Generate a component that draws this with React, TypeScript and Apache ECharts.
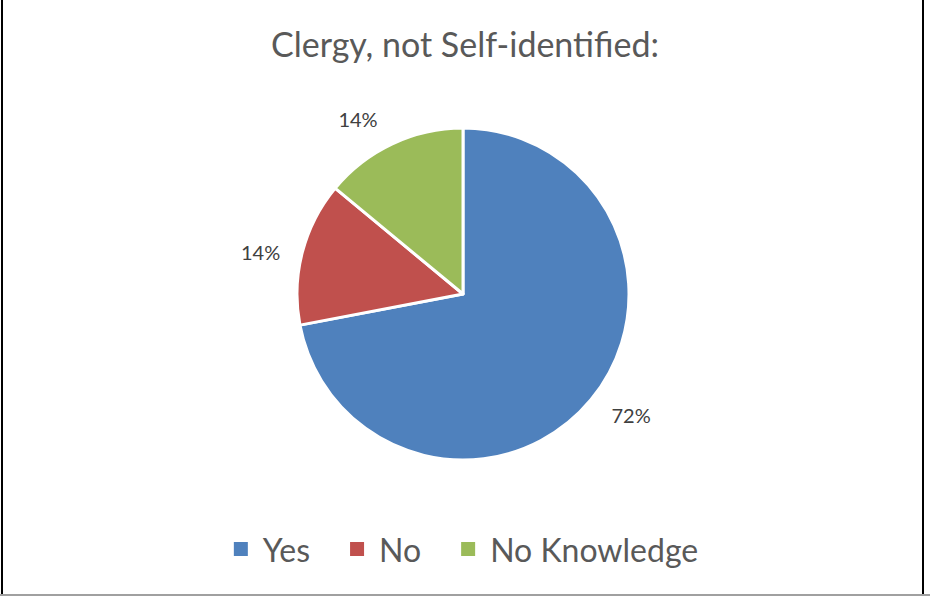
import React, { useEffect, useRef } from "react";
import * as echarts from "echarts";

const titleText = "Clergy, not Self-identified:";
const categories = ["Yes", "No", "No Knowledge"];
const values = [72, 14, 14];
const colors = ["#4F81BD", "#C0504D", "#9BBB59"];
// small nudges reproducing the spreadsheet's "best fit" label placement
const labelNudges = [[7, -12], [0, 10], [-16, 14]];

export default function App() {
  const ref = useRef<HTMLDivElement>(null);
  useEffect(() => {
    if (!ref.current) return;
    const chart = echarts.init(ref.current, null, { renderer: "svg" });
    const data = categories.map((name, i) => ({
      name,
      value: values[i],
      itemStyle: { color: colors[i] },
    }));
    chart.setOption({
      animation: false,
      backgroundColor: "#ffffff",
      title: {
        text: titleText,
        left: "center",
        top: 21,
        textStyle: {
          fontFamily: "Lato",
          fontSize: 34,
          fontWeight: "normal",
          color: "#595959",
        },
      },
      legend: {
        data: categories,
        left: "center",
        top: 528,
        icon: "rect",
        itemWidth: 16,
        itemHeight: 16,
        itemGap: 38,
        textStyle: {
          fontFamily: "Lato",
          fontSize: 32,
          color: "#595959",
          padding: [0, 0, 0, 9],
        },
      },
      graphic: [
        { type: "line", shape: { x1: 2, y1: 0, x2: 2, y2: 596 }, style: { stroke: "#000", lineWidth: 2 } },
        { type: "line", shape: { x1: 923, y1: 0, x2: 923, y2: 596 }, style: { stroke: "#000", lineWidth: 2 } },
        { type: "line", shape: { x1: 0, y1: 595, x2: 930, y2: 595 }, style: { stroke: "#a0a0a0", lineWidth: 2 } },
      ],
      series: [
        {
          type: "pie",
          center: [463, 294],
          radius: [0, 166],
          startAngle: 90,
          clockwise: true,
          data,
          label: { show: false },
          labelLine: { show: false },
          itemStyle: { borderColor: "#ffffff", borderWidth: 3 },
          emphasis: { disabled: true },
        },
        {
          type: "pie",
          center: [463, 294],
          radius: [196, 216],
          startAngle: 90,
          clockwise: true,
          silent: true,
          data: categories.map((name, i) => ({
            name,
            value: values[i],
            label: { offset: labelNudges[i] },
          })),
          itemStyle: { color: "rgba(0,0,0,0)" },
          label: {
            show: true,
            position: "inside",
            formatter: "{d}%",
            fontFamily: "Lato",
            fontSize: 20,
            color: "#404040",
          },
          labelLine: { show: false },
          emphasis: { disabled: true },
        },
      ],
    });
    return () => chart.dispose();
  }, []);
  return (
    <div
      ref={ref}
      style={{ position: "fixed", left: 0, top: 0, width: 930, height: 596 }}
    />
  );
}
